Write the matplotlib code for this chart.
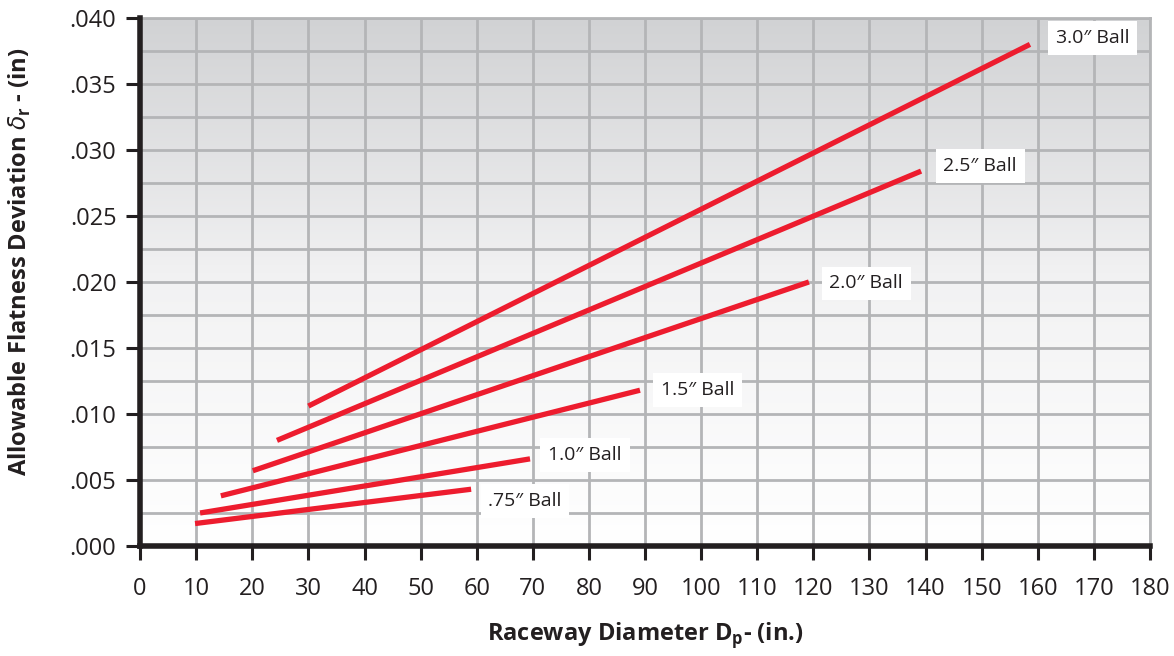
import matplotlib
matplotlib.use('Agg')
import matplotlib.pyplot as plt
import numpy as np
from matplotlib.colors import LinearSegmentedColormap

plt.rcParams['font.family'] = ['Open Sans', 'DejaVu Sans']
plt.rcParams['mathtext.fontset'] = 'dejavusans'

# ball sizes and their line end points (raceway dia in, deviation in)
ball_labels = ['3.0″ Ball', '2.5″ Ball', '2.0″ Ball', '1.5″ Ball', '1.0″ Ball', '.75″ Ball']
x_start = [30, 24.4, 20.1, 14.4, 10.7, 9.8]
y_start = [0.0106, 0.0080, 0.0057, 0.0038, 0.0025, 0.0017]
x_end = [158.6, 139.2, 119.2, 89.1, 69.5, 59.0]
y_end = [0.0380, 0.0284, 0.0200, 0.0118, 0.0066, 0.0043]
# where each label box sits
label_x = [169.7, 149.7, 129.4, 99.3, 79.3, 68.6]
label_y = [0.0385, 0.0288, 0.0199, 0.0118, 0.0069, 0.0034]

x_ticks = list(range(0, 181, 10))
y_ticks = [0.000, 0.005, 0.010, 0.015, 0.020, 0.025, 0.030, 0.035, 0.040]
y_ticklabels = ['.000', '.005', '.010', '.015', '.020', '.025', '.030', '.035', '.040']

red = '#ed1c2e'

fig = plt.figure(figsize=(11.74, 6.56), dpi=100)
ax = fig.add_axes([0.1193, 0.1677, 0.8603, 0.8049])

# gray-to-white gradient background
grad = np.linspace(0, 1, 256).reshape(-1, 1)
cmap = LinearSegmentedColormap.from_list('bg', ['#ffffff', '#f2f2f3', '#d1d2d4'])
ax.imshow(grad, cmap=cmap, origin='lower', aspect='auto',
          extent=[0, 180, 0, 0.040], zorder=0)

ax.set_xlim(0, 180)
ax.set_ylim(0, 0.040)

# grid: every 10 in x, every .0025 in y
for xv in x_ticks:
    ax.axvline(xv, color='#b4b5b7', lw=2, zorder=1)
for yv in np.arange(0, 0.0401, 0.0025):
    ax.axhline(yv, color='#b4b5b7', lw=2, zorder=1)

for i in range(len(ball_labels)):
    ax.plot([x_start[i], x_end[i]], [y_start[i], y_end[i]], color=red,
            lw=3.8, solid_capstyle='butt', zorder=3)
    ax.text(label_x[i], label_y[i], ball_labels[i], fontsize=14,
            ha='center', va='center', color='#231f20', zorder=4,
            bbox=dict(boxstyle='square,pad=0.4', facecolor='white', edgecolor='none'))

ax.set_xticks(x_ticks)
ax.set_yticks(y_ticks)
ax.set_yticklabels(y_ticklabels)
ax.tick_params(axis='both', labelsize=17, colors='#231f20', width=2.2, length=10, pad=7)
ax.tick_params(axis='x', pad=12)

for s in ['left', 'bottom']:
    ax.spines[s].set_linewidth(4)
    ax.spines[s].set_color('#231f20')
    ax.spines[s].set_zorder(5)
for s in ['top', 'right']:
    ax.spines[s].set_linewidth(2)
    ax.spines[s].set_color('#b4b5b7')

ax.set_xlabel(r'Raceway Diameter D$_{\mathregular{p}}$- (in.)', fontsize=17,
              fontweight='bold', color='#231f20', labelpad=14)
ax.set_ylabel(r'Allowable Flatness Deviation $\delta_{\mathregular{r}}$ - (in)', fontsize=17,
              fontweight='bold', color='#231f20')
ax.yaxis.set_label_coords(-0.106, 0.538)

fig.savefig('out.png', dpi=100)
